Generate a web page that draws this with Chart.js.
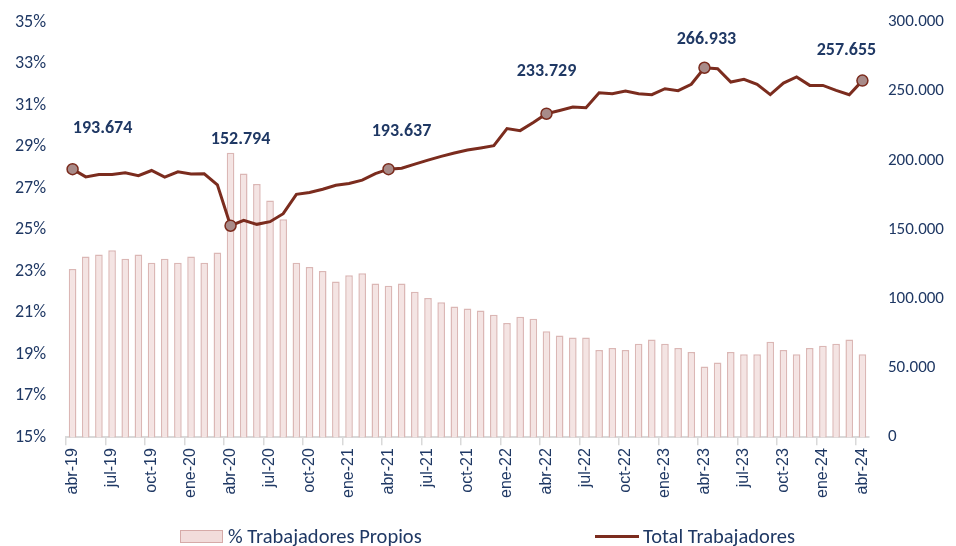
<!DOCTYPE html>
<html>
<head>
<meta charset="utf-8">
<script src="https://cdn.jsdelivr.net/npm/chart.js@4.4.1/dist/chart.umd.min.js"></script>
<style>
  html, body { margin: 0; padding: 0; background: #fff; }
  #wrap { position: relative; width: 956px; height: 546px; }
  #legend { position: absolute; left: 0; top: 525px; width: 956px; height: 22px;
    font-family: Carlito, Calibri, Lato, sans-serif; font-size: 20.5px; color: #1f3864; }
  .item { position: absolute; top: 0; display: flex; align-items: center; height: 22px; white-space: nowrap; }
  .box { width: 41px; height: 11px; background: #f2dcdb; border: 1px solid #d6aaa8; margin-right: 5px; }
  .line { width: 44px; height: 3px; background: #7b2c1e; margin-right: 4px; }
</style>
</head>
<body>
<div id="wrap">
  <canvas id="chart" width="956" height="546"></canvas>
  <div id="legend">
    <div class="item" style="left:180px"><span class="box"></span>% Trabajadores Propios</div>
    <div class="item" style="left:595px"><span class="line"></span>Total Trabajadores</div>
  </div>
</div>
<script>
// datos mensuales abr-19 .. abr-24
const meses = [
  'abr-19','may-19','jun-19','jul-19','ago-19','sep-19','oct-19','nov-19','dic-19',
  'ene-20','feb-20','mar-20','abr-20','may-20','jun-20','jul-20','ago-20','sep-20','oct-20','nov-20','dic-20',
  'ene-21','feb-21','mar-21','abr-21','may-21','jun-21','jul-21','ago-21','sep-21','oct-21','nov-21','dic-21',
  'ene-22','feb-22','mar-22','abr-22','may-22','jun-22','jul-22','ago-22','sep-22','oct-22','nov-22','dic-22',
  'ene-23','feb-23','mar-23','abr-23','may-23','jun-23','jul-23','ago-23','sep-23','oct-23','nov-23','dic-23',
  'ene-24','feb-24','mar-24','abr-24'
];

// % trabajadores propios (eje izquierdo)
const pctPropios = [
  23.1, 23.7, 23.8, 24.0, 23.6, 23.8, 23.4, 23.6, 23.4,
  23.7, 23.4, 23.9, 28.7, 27.7, 27.2, 26.4, 25.5, 23.4, 23.2, 23.0, 22.5,
  22.8, 22.9, 22.4, 22.3, 22.4, 22.0, 21.7, 21.5, 21.3, 21.2, 21.1, 20.9,
  20.5, 20.8, 20.7, 20.1, 19.9, 19.8, 19.8, 19.2, 19.3, 19.2, 19.5, 19.7,
  19.5, 19.3, 19.1, 18.4, 18.6, 19.1, 19.0, 19.0, 19.6, 19.2, 19.0, 19.3,
  19.4, 19.5, 19.7, 19.0
];

// total trabajadores (eje derecho)
const totalTrab = [
  193674, 188100, 189800, 189800, 191000, 188900, 192700, 187900, 191800,
  190100, 190300, 182300, 152794, 156700, 153800, 155700, 161500, 175500, 176800, 179200, 182000,
  183300, 185700, 190500, 193637, 194400, 197300, 200200, 202900, 205300, 207500, 209000, 210600,
  223000, 221500, 227400, 233729, 236100, 238500, 238000, 248900, 248200, 250100, 248200, 247500,
  251800, 250400, 255000, 266933, 266300, 256600, 258600, 255000, 247500, 255900, 260300, 254200,
  254200, 250600, 247500, 257655
];

// puntos destacados con etiqueta (índices en meses)
const puntosMarcados = [0, 12, 24, 36, 48, 60];

const pctTicks = [15, 17, 19, 21, 23, 25, 27, 29, 31, 33, 35];
const totalTicks = [0, 50000, 100000, 150000, 200000, 250000, 300000];

const navy = '#1f3864';
const sinColor = 'rgba(0,0,0,0)';

function fmtMiles(v) {
  return Math.round(v).toString().replace(/\B(?=(\d{3})+(?!\d))/g, '.');
}

// etiquetas de valor sobre los puntos marcados
const etiquetasPlugin = {
  id: 'etiquetas',
  afterDatasetsDraw(chart, args, opts) {
    const meta = chart.getDatasetMeta(1);
    const ctx = chart.ctx;
    ctx.save();
    ctx.font = 'bold 18px Carlito, Calibri, Lato, sans-serif';
    ctx.fillStyle = navy;
    ctx.textAlign = 'center';
    ctx.textBaseline = 'middle';
    puntosMarcados.forEach(i => {
      const pt = meta.data[i];
      const off = opts.offsets[i] || [0, -30];
      ctx.fillText(fmtMiles(totalTrab[i]), pt.x + off[0], pt.y + off[1]);
    });
    ctx.restore();
  }
};

new Chart(document.getElementById('chart'), {
  type: 'bar',
  data: {
    labels: meses,
    datasets: [
      {
        type: 'bar',
        label: '% Trabajadores Propios',
        data: pctPropios,
        yAxisID: 'y',
        backgroundColor: '#f4e4e3',
        borderColor: '#dbb7b5',
        borderWidth: 1.5,
        categoryPercentage: 1,
        barPercentage: 0.58,
        order: 2
      },
      {
        type: 'line',
        label: 'Total Trabajadores',
        data: totalTrab,
        yAxisID: 'y1',
        borderColor: '#7b2c1e',
        borderWidth: 3,
        tension: 0,
        pointRadius: ctx => puntosMarcados.includes(ctx.dataIndex) ? 5.5 : 0,
        pointBackgroundColor: '#a88b89',
        pointBorderColor: '#7b2c1e',
        pointBorderWidth: 1.5,
        order: 1
      }
    ]
  },
  options: {
    responsive: false,
    animation: false,
    layout: { padding: { top: 22, bottom: 45, left: 0, right: 0 } },
    plugins: {
      legend: { display: false },
      tooltip: { enabled: false },
      etiquetas: {
        offsets: { 0: [30, -41], 12: [10, -86], 24: [13, -38], 36: [0, -42], 48: [2, -28], 60: [-16, -30] }
      }
    },
    scales: {
      x: {
        offset: true,
        grid: {
          offset: true,
          drawOnChartArea: false,
          tickLength: 8,
          lineWidth: 1.5,
          tickColor: ctx => (ctx.index !== undefined && ctx.index % 3 === 0) ? '#d9d9d9' : sinColor
        },
        border: { color: '#d9d9d9', width: 2 },
        ticks: {
          autoSkip: false,
          maxRotation: 90,
          minRotation: 90,
          padding: 3,
          color: navy,
          font: { family: "'Liberation Sans', Arial, sans-serif", size: 16 },
          callback: (v, i) => i % 3 === 0 ? meses[i] : ''
        }
      },
      y: {
        position: 'left',
        min: 15,
        max: 35,
        afterBuildTicks: s => { s.ticks = pctTicks.map(v => ({ value: v })); },
        afterFit: s => { s.width = 66; },
        // marcas invisibles para separar las etiquetas del área
        grid: { drawOnChartArea: false, tickLength: 20, tickColor: sinColor },
        border: { display: false },
        ticks: {
          padding: 0,
          color: navy,
          font: { family: 'Carlito, Calibri, Lato, sans-serif', size: 18 },
          callback: v => v + '%'
        }
      },
      y1: {
        position: 'right',
        min: 0,
        max: 300000,
        afterBuildTicks: s => { s.ticks = totalTicks.map(v => ({ value: v })); },
        afterFit: s => { s.width = 87; },
        grid: { drawOnChartArea: false, tickLength: 19, tickColor: sinColor },
        border: { display: false },
        ticks: {
          padding: 0,
          color: navy,
          font: { family: 'Carlito, Calibri, Lato, sans-serif', size: 17 },
          callback: v => fmtMiles(v)
        }
      }
    }
  },
  plugins: [etiquetasPlugin]
});
</script>
</body>
</html>
